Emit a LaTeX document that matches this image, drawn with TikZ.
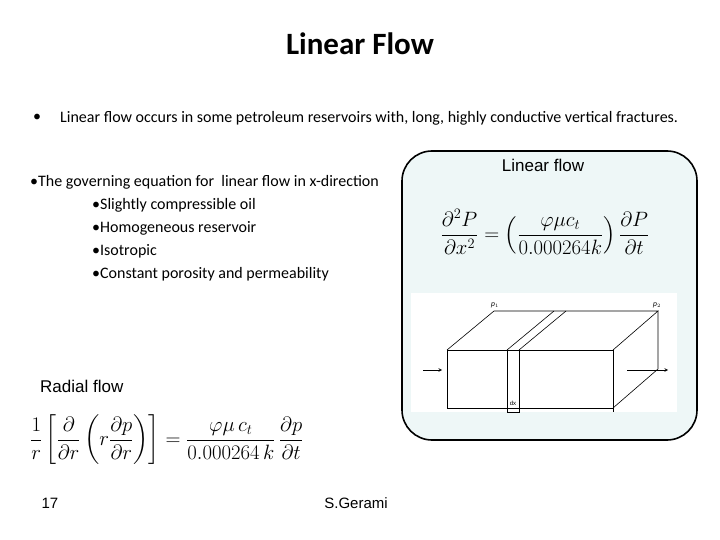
\documentclass[tikz,border=0pt]{standalone}
\usepackage{fontspec}
\setmainfont{Carlito}
\newfontfamily\arial{Liberation Sans}
\usepackage{amsmath}
\begin{document}
\begin{tikzpicture}[x=1pt,y=-1pt,
  txt/.style={anchor=west,inner sep=0pt,font=\fontsize{16}{18}\selectfont},
  eq/.style={inner sep=0pt},
  ln/.style={line width=0.6pt},
  arr/.style={ln,-stealth}]
\useasboundingbox[fill=white] (0,0) rectangle (720,540);
\node[inner sep=0pt,font=\fontsize{31}{34}\selectfont\bfseries] (title) at (360,44) {Linear Flow};
\node[txt] (b0) at (33,118) {\textbullet};
\node[txt] (b1) at (60,118) {Linear flow occurs in some petroleum reservoirs with, long, highly conductive vertical fractures.};
\node[txt] (l1) at (30,182) {\textbullet The governing equation for\ \ linear flow in x-direction};
\node[txt] (l2) at (92,205) {\textbullet Slightly compressible oil};
\node[txt] (l3) at (92,228) {\textbullet Homogeneous reservoir};
\node[txt] (l4) at (92,251) {\textbullet Isotropic};
\node[txt] (l5) at (92,274) {\textbullet Constant porosity and permeability};
\draw[line width=1.6pt,fill={rgb,255:red,238;green,247;blue,247},rounded corners=30] (402,151) rectangle (697,440);
\node[inner sep=0pt,font=\arial\fontsize{17}{19}\selectfont] (lf) at (543,165) {Linear flow};
\node[eq,font=\fontsize{21.5}{24}\selectfont] (eq1) at (545,232) {$\dfrac{\partial^2 P}{\partial x^2}=\left(\dfrac{\varphi\mu c_t}{0.000264k}\right)\dfrac{\partial P}{\partial t}$};
\fill[white] (411,293) rectangle (677,412);
\coordinate (f1) at (447,350); \coordinate (f2) at (613,350);
\coordinate (f3) at (613,408); \coordinate (f4) at (447,408);
\coordinate (k1) at (494,311); \coordinate (k2) at (658,311); \coordinate (k3) at (658,369);
\draw[ln] (f1) -- (f2) -- (f3) -- (f4) -- cycle;
\draw[ln] (f1) -- (k1) -- (k2) -- (f2);
\draw[ln] (k2) -- (k3) -- (f3);
\draw[ln] (507,350) -- (507,408) (519,350) -- (519,408);
\draw[ln] (507,350) -- (554,311) (519,350) -- (566,311);
\draw[line width=0.4pt] (507,408) -- (507,412) -- (519,412) -- (519,408) (613,408) -- (613,412);
\node[inner sep=0pt,font=\arial\fontsize{6}{7}\selectfont] (dx) at (513,403) {dx};
\node[inner sep=0pt,font=\arial\itshape\fontsize{7}{8}\selectfont] (p1) at (495,305) {p$_1$};
\node[inner sep=0pt,font=\arial\itshape\fontsize{7}{8}\selectfont] (p2) at (657,305) {p$_2$};
\coordinate (a1) at (423,370); \coordinate (a2) at (442,370);
\coordinate (a3) at (627,370); \coordinate (a4) at (668,370);
\draw[arr] (a1) -- (a2);
\draw[arr] (a3) -- (a4);
\node[inner sep=0pt,anchor=west,font=\arial\fontsize{17}{19}\selectfont] (rf) at (40,386) {Radial flow};
\node[eq,font=\fontsize{20.5}{23}\selectfont,anchor=west] (eq2) at (30,440) {$\dfrac{1}{r}\left[\dfrac{\partial}{\partial r}\left(r\dfrac{\partial p}{\partial r}\right)\right]=\dfrac{\varphi\mu\, c_t}{0.000264\,k}\,\dfrac{\partial p}{\partial t}$};
\node[inner sep=0pt,font=\arial\fontsize{15}{17}\selectfont] (pg) at (50,503) {17};
\node[inner sep=0pt,font=\arial\fontsize{15}{17}\selectfont] (au) at (356,503) {S.Gerami};
\end{tikzpicture}
\end{document}
